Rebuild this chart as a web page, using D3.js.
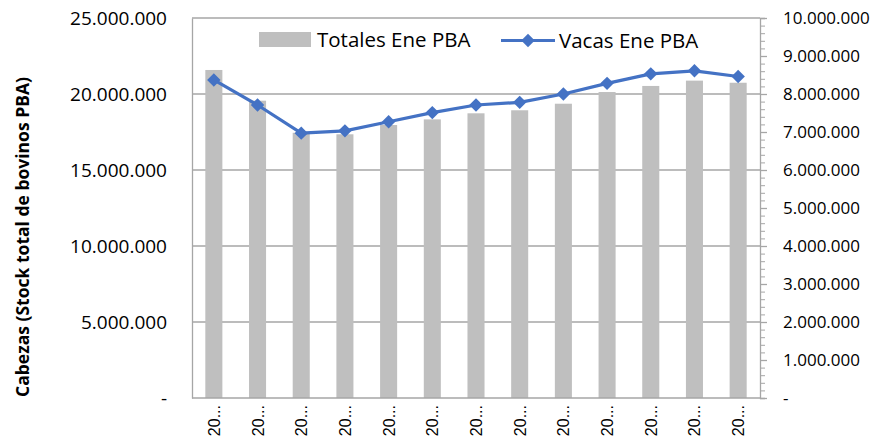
<!DOCTYPE html>
<html>
<head>
<meta charset="utf-8">
<script src="https://cdn.jsdelivr.net/npm/d3@7"></script>
<style>
  body { margin: 0; background: #fff; }
  text { font-family: "Open Sans", "Liberation Sans", sans-serif; fill: #000; }
</style>
</head>
<body>
<div id="chart"></div>
<script>
// years shown truncated as "20..." in the picture
const years = ["2008", "2009", "2010", "2011", "2012", "2013", "2014",
               "2015", "2016", "2017", "2018", "2019", "2020"];
const yearLabels = years.map(() => "20...");
const totales = [21580000, 19560000, 17450000, 17350000, 17960000, 18330000, 18730000,
                 18930000, 19360000, 20130000, 20530000, 20880000, 20740000];
const vacas = [8370000, 7710000, 6970000, 7030000, 7270000, 7510000, 7710000,
               7780000, 8000000, 8280000, 8530000, 8610000, 8460000];
const leftTicks = [0, 5000000, 10000000, 15000000, 20000000, 25000000];
const rightTicks = [0, 1000000, 2000000, 3000000, 4000000, 5000000, 6000000,
                    7000000, 8000000, 9000000, 10000000];
const seriesNames = ["Totales Ene PBA", "Vacas Ene PBA"];

let width = 883, height = 437;
let m = { left: 192, right: 123, top: 18, bottom: 39 };
let w = width - m.left - m.right,
    h = height - m.top - m.bottom;

const barColor = "#BFBFBF", lineColor = "#4472C4", gridColor = "#A6A6A6";

let svg = d3.select("#chart").append("svg")
    .attr("width", width)
    .attr("height", height);

let vis = svg.append("g")
    .attr("transform", "translate(" + m.left + "," + m.top + ")");

let x = d3.scaleBand().domain(years).range([0, w]).paddingInner(0.61).paddingOuter(0.305);
let yL = d3.scaleLinear().domain([0, 25000000]).range([h, 0]);
let yR = d3.scaleLinear().domain([0, 10000000]).range([h, 0]);

const fmt = (v) => v === 0 ? "-" : d3.format(",")(v).replace(/,/g, ".");

// gridlines
vis.selectAll(".grid").data(leftTicks.filter(d => d > 0)).enter().append("line")
    .attr("class", "grid")
    .attr("x1", 0).attr("x2", w)
    .attr("y1", d => yL(d)).attr("y2", d => yL(d))
    .attr("stroke", gridColor).attr("stroke-width", 1.3);

// bars
vis.selectAll(".bar").data(totales).enter().append("rect")
    .attr("class", "bar")
    .attr("x", (d, i) => x(years[i]))
    .attr("y", d => yL(d))
    .attr("width", x.bandwidth())
    .attr("height", d => h - yL(d))
    .attr("fill", barColor);

// left axis
let axL = vis.append("g")
    .call(d3.axisLeft(yL).tickValues(leftTicks).tickSize(0).tickPadding(25).tickFormat(fmt));
axL.select(".domain").attr("stroke", gridColor).attr("stroke-width", 1.3);
axL.selectAll("text").style("font-size", "19px").style("font-family", "'Open Sans'");

// right axis with minor ticks
let minor = d3.range(0, 10000001, 200000);
let axRm = vis.append("g").attr("transform", "translate(" + w + ",0)")
    .call(d3.axisRight(yR).tickValues(minor).tickSize(5).tickFormat(""));
axRm.select(".domain").attr("stroke", gridColor).attr("stroke-width", 1.3);
axRm.selectAll(".tick line").attr("stroke", gridColor);
let axR = vis.append("g").attr("transform", "translate(" + w + ",0)")
    .call(d3.axisRight(yR).tickValues(rightTicks).tickSize(7).tickPadding(16).tickFormat(fmt));
axR.select(".domain").remove();
axR.selectAll(".tick line").attr("stroke", gridColor).attr("stroke-width", 1.3);
axR.selectAll("text").style("font-size", "17px").style("font-family", "'Open Sans'");

// bottom axis line
vis.append("line")
    .attr("x1", 0).attr("x2", w).attr("y1", h).attr("y2", h)
    .attr("stroke", gridColor).attr("stroke-width", 1.3);

// x labels
vis.selectAll(".xlab").data(years).enter().append("text")
    .attr("class", "xlab")
    .attr("transform", d => "translate(" + (x(d) + x.bandwidth() / 2 + 6) + "," + (h + 7) + ") rotate(-90)")
    .style("text-anchor", "end")
    .style("font-family", "'Liberation Sans', Arial, sans-serif")
    .style("font-size", "16px")
    .text((d, i) => yearLabels[i]);

// line
let line = d3.line()
    .x((d, i) => x(years[i]) + x.bandwidth() / 2)
    .y(d => yR(d));

vis.append("path")
    .datum(vacas)
    .attr("d", line)
    .attr("fill", "none")
    .attr("stroke", lineColor)
    .attr("stroke-width", 3.2)
    .attr("stroke-linejoin", "round");

let diamond = d3.symbol().type(d3.symbolDiamond2).size(115);
vis.selectAll(".pt").data(vacas).enter().append("path")
    .attr("class", "pt")
    .attr("d", diamond)
    .attr("transform", (d, i) => "translate(" + (x(years[i]) + x.bandwidth() / 2) + "," + yR(d) + ")")
    .attr("fill", lineColor);

// y title
svg.append("text")
    .attr("transform", "translate(29,237) rotate(-90)")
    .style("text-anchor", "middle")
    .style("font-weight", "bold")
    .style("font-size", "17.5px")
    .text("Cabezas (Stock total de bovinos PBA)");

// legend
let legend = svg.append("g").attr("transform", "translate(259,32)");
legend.append("rect")
    .attr("x", 0).attr("y", 0).attr("width", 52).attr("height", 15)
    .attr("fill", barColor);
legend.append("text")
    .attr("x", 58).attr("y", 15)
    .style("font-size", "20.5px")
    .text(seriesNames[0]);

let lg2 = legend.append("g").attr("transform", "translate(242,8.5)");
lg2.append("line")
    .attr("x1", 0).attr("x2", 54).attr("y1", 0).attr("y2", 0)
    .attr("stroke", lineColor).attr("stroke-width", 3.2);
lg2.append("path")
    .attr("d", diamond)
    .attr("transform", "translate(27,0)")
    .attr("fill", lineColor);
lg2.append("text")
    .attr("x", 58).attr("y", 7)
    .style("font-size", "20.5px")
    .text(seriesNames[1]);
</script>
</body>
</html>
